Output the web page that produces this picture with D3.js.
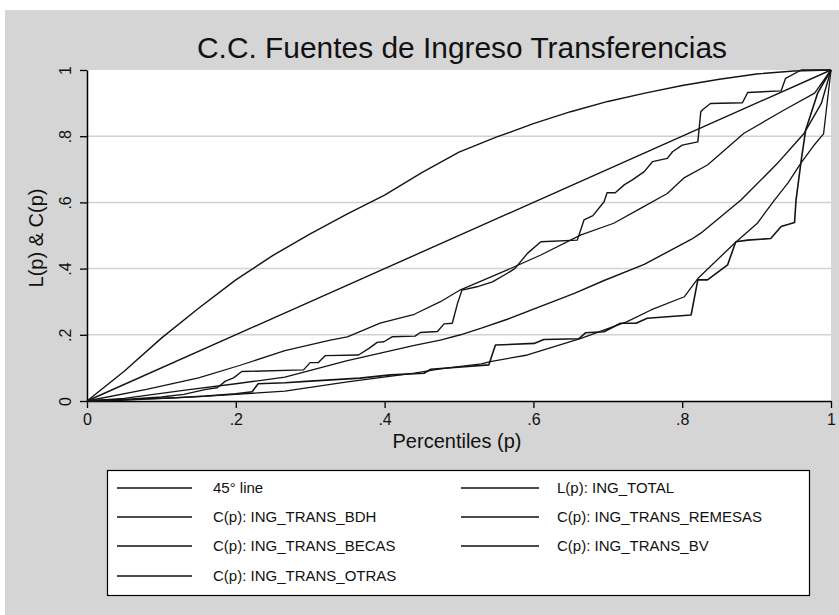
<!DOCTYPE html>
<html><head><meta charset="utf-8">
<script src="https://cdn.jsdelivr.net/npm/d3@7"></script>
<style>html,body{margin:0;padding:0;background:#fff}svg{display:block}text{font-family:"Liberation Sans",Arial,sans-serif;fill:#111}</style>
</head><body>
<script>
// ---- data ----
const title = "C.C. Fuentes de Ingreso Transferencias";
const xTicks = [0, 0.2, 0.4, 0.6, 0.8, 1];
const yTicks = [0, 0.2, 0.4, 0.6, 0.8, 1];
const tickText = v => v === 0 ? "0" : v === 1 ? "1" : "." + Math.round(v * 10);
const seriesNames = ["45° line", "L(p): ING_TOTAL", "C(p): ING_TRANS_BDH", "C(p): ING_TRANS_REMESAS",
  "C(p): ING_TRANS_BECAS", "C(p): ING_TRANS_BV", "C(p): ING_TRANS_OTRAS"];
const line45 = [[0,0],[1,1]];
const lTotal = [[0,0],[0.05,0.008],[0.132,0.033],[0.2,0.052],[0.266,0.072],[0.35,0.122],[0.44,0.168],[0.475,0.184],[0.502,0.2],[0.53,0.22],[0.565,0.247],[0.655,0.325],[0.695,0.364],[0.749,0.413],[0.812,0.488],[0.825,0.507],[0.879,0.607],[0.928,0.718],[0.964,0.809],[0.987,0.899],[1,1]];
const cBDH = [[0,0],[0.05,0.09],[0.1,0.19],[0.15,0.28],[0.2,0.366],[0.25,0.44],[0.3,0.505],[0.35,0.565],[0.4,0.622],[0.45,0.69],[0.5,0.752],[0.55,0.797],[0.6,0.838],[0.65,0.874],[0.7,0.905],[0.75,0.93],[0.8,0.953],[0.85,0.972],[0.9,0.988],[0.95,0.997],[1,1]];
const cRemesas = [[0,0],[0.08,0.035],[0.15,0.07],[0.206,0.108],[0.266,0.152],[0.327,0.184],[0.35,0.194],[0.394,0.235],[0.44,0.262],[0.475,0.3],[0.502,0.336],[0.565,0.396],[0.61,0.441],[0.664,0.502],[0.708,0.537],[0.744,0.582],[0.78,0.627],[0.803,0.675],[0.834,0.713],[0.883,0.809],[0.937,0.879],[0.978,0.93],[1,1]];
const cBecas = [[0,0],[0.06,0.006],[0.1,0.012],[0.13,0.02],[0.16,0.035],[0.175,0.04],[0.186,0.06],[0.197,0.07],[0.208,0.089],[0.291,0.094],[0.3,0.116],[0.311,0.116],[0.32,0.137],[0.365,0.139],[0.379,0.159],[0.39,0.177],[0.399,0.179],[0.41,0.194],[0.441,0.196],[0.448,0.207],[0.471,0.21],[0.48,0.233],[0.491,0.235],[0.498,0.295],[0.504,0.335],[0.524,0.345],[0.545,0.36],[0.565,0.386],[0.575,0.4],[0.592,0.446],[0.61,0.481],[0.659,0.486],[0.668,0.547],[0.68,0.56],[0.695,0.602],[0.699,0.629],[0.71,0.629],[0.722,0.653],[0.733,0.668],[0.749,0.693],[0.76,0.723],[0.78,0.733],[0.787,0.753],[0.8,0.773],[0.821,0.783],[0.825,0.874],[0.827,0.879],[0.838,0.899],[0.881,0.901],[0.888,0.932],[0.933,0.937],[0.939,0.975],[0.96,1],[1,1]];
const cBV = [[0,0],[0.04,0.002],[0.08,0.006],[0.12,0.01],[0.16,0.015],[0.2,0.022],[0.222,0.028],[0.23,0.052],[0.266,0.055],[0.3,0.06],[0.367,0.069],[0.408,0.079],[0.453,0.084],[0.462,0.096],[0.54,0.109],[0.549,0.169],[0.601,0.174],[0.614,0.186],[0.661,0.188],[0.67,0.206],[0.695,0.209],[0.717,0.235],[0.738,0.235],[0.753,0.25],[0.812,0.26],[0.821,0.366],[0.834,0.366],[0.861,0.411],[0.872,0.481],[0.888,0.486],[0.919,0.491],[0.933,0.527],[0.951,0.539],[0.953,0.607],[0.96,0.728],[0.966,0.819],[0.982,0.93],[1,1]];
const cOtras = [[0,0],[0.05,0.004],[0.1,0.008],[0.15,0.013],[0.2,0.02],[0.266,0.03],[0.35,0.058],[0.44,0.084],[0.475,0.097],[0.53,0.112],[0.542,0.119],[0.592,0.139],[0.664,0.189],[0.726,0.24],[0.758,0.275],[0.803,0.315],[0.821,0.37],[0.87,0.476],[0.901,0.537],[0.924,0.607],[0.942,0.658],[0.96,0.72],[0.978,0.775],[0.99,0.807],[1,1]];
const allSeries = [line45, lTotal, cBDH, cRemesas, cBecas, cBV, cOtras];
const seriesWidth = [1.4, 1.4, 1.4, 1.3, 1.4, 1.6, 1.3];
const xTitle = "Percentiles (p)";
const yTitle = "L(p) & C(p)";

// ---- layout ----
const W = 839, H = 615;
const svg = d3.select("body").append("svg").attr("width", W).attr("height", H);
svg.append("rect").attr("x", 5).attr("y", 10).attr("width", W - 5).attr("height", H - 10).attr("fill", "#d5d5d5");
const x = d3.scaleLinear().domain([0, 1]).range([87, 831]);
const y = d3.scaleLinear().domain([0, 1]).range([401, 70]);
svg.append("rect").attr("x", x(0)).attr("y", y(1)).attr("width", x(1) - x(0)).attr("height", y(0) - y(1)).attr("fill", "#fff");

// grid
svg.append("g").selectAll("line").data(yTicks.filter(v => v > 0 && v < 1)).join("line")
  .attr("x1", x(0)).attr("x2", x(1)).attr("y1", d => y(d)).attr("y2", d => y(d))
  .attr("stroke", "#d2d2d2").attr("stroke-width", 1.5);

// title
svg.append("text").attr("x", 462).attr("y", 58).attr("text-anchor", "middle")
  .attr("font-size", 29).attr("textLength", 530).attr("lengthAdjust", "spacingAndGlyphs").text(title);

// axes
const gy = svg.append("g").attr("transform", `translate(${x(0)},0)`)
  .call(d3.axisLeft(y).tickValues(yTicks).tickFormat(tickText).tickSize(7).tickSizeOuter(0));
gy.select(".domain").attr("stroke", "#000").attr("stroke-width", 1.5);
gy.selectAll(".tick line").attr("stroke", "#000").attr("stroke-width", 1.3);
gy.selectAll(".tick text").attr("font-size", 16).attr("font-family", "Liberation Sans, Arial, sans-serif")
  .attr("fill", "#111").attr("text-anchor", "middle")
  .attr("transform", "translate(-16,0) rotate(-90)").attr("x", 0).attr("y", 0).attr("dy", "0");

const gx = svg.append("g").attr("transform", `translate(0,${y(0)})`)
  .call(d3.axisBottom(x).tickValues(xTicks).tickFormat(tickText).tickSize(7).tickSizeOuter(0));
gx.select(".domain").attr("stroke", "#000").attr("stroke-width", 1.5);
gx.selectAll(".tick line").attr("stroke", "#000").attr("stroke-width", 1.3);
gx.selectAll(".tick text").attr("font-size", 16).attr("font-family", "Liberation Sans, Arial, sans-serif")
  .attr("fill", "#111").attr("y", 13).attr("dy", "0.71em");

svg.append("text").attr("x", 457).attr("y", 448).attr("text-anchor", "middle").attr("font-size", 20).text(xTitle);
svg.append("text").attr("transform", "translate(43,238) rotate(-90)").attr("text-anchor", "middle")
  .attr("font-size", 20).text(yTitle);

// curves
const lineGen = d3.line().x(d => x(d[0])).y(d => y(d[1]));
svg.append("g").selectAll("path").data(allSeries).join("path")
  .attr("d", lineGen).attr("fill", "none").attr("stroke", "#141414")
  .attr("stroke-width", (d, i) => seriesWidth[i]).attr("stroke-linejoin", "round");

// legend
const lg = svg.append("g");
lg.append("rect").attr("x", 107.5).attr("y", 470.5).attr("width", 702).attr("height", 125)
  .attr("fill", "#fff").attr("stroke", "#000").attr("stroke-width", 1.2);
const rowY = [488, 517, 546, 576];
const colX = [[117, 192, 213], [461, 539, 557]];
seriesNames.forEach((name, i) => {
  const r = Math.floor(i / 2), c = i % 2;
  lg.append("line").attr("x1", colX[c][0]).attr("x2", colX[c][1]).attr("y1", rowY[r]).attr("y2", rowY[r])
    .attr("stroke", "#111").attr("stroke-width", seriesWidth[i] + 0.1);
  lg.append("text").attr("x", colX[c][2]).attr("y", rowY[r]).attr("dy", "0.35em")
    .attr("font-size", 15).text(name);
});
</script>
</body></html>
